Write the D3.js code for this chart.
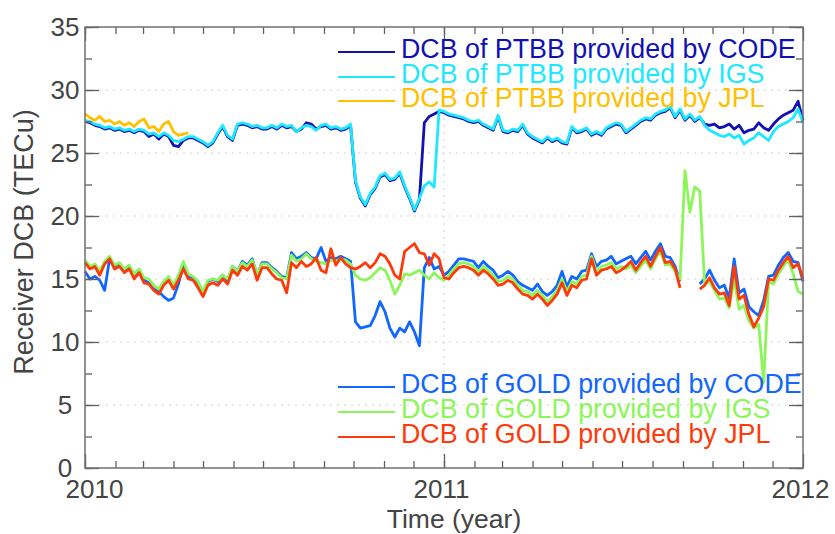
<!DOCTYPE html>
<html>
<head>
<meta charset="utf-8">
<script src="https://cdn.jsdelivr.net/npm/d3@7"></script>
<style>
body { margin: 0; background: #fff; }
text { font-family: "Liberation Sans", Arial, sans-serif; }
</style>
</head>
<body>
<svg id="chart" width="835" height="534"></svg>
<script>
// one sample every 5 days, starting 2010-01-01
var startDate = new Date(Date.UTC(2010, 0, 1));
var stepDays = 5;

// receiver PTBB
var ptbbCode = [27.5,27.4,27.2,27.1,26.9,27.0,26.8,26.9,26.7,26.8,26.6,26.8,26.7,26.3,26.5,26.1,26.5,26.3,25.6,25.5,26.0,26.2,26.2,26.0,25.8,25.5,25.8,26.5,27.1,26.3,26.0,27.2,27.3,27.2,27.0,27.1,26.9,
  26.9,27.1,26.9,27.2,27.0,27.1,26.7,26.9,27.4,27.3,26.9,27.1,27.2,26.9,27.0,26.8,26.9,27.2,22.7,21.4,20.8,21.7,22.2,23.1,23.3,22.8,22.9,23.4,22.3,21.4,20.4,21.3,27.4,27.9,28.1,28.3,28.2,
  28.0,27.9,27.8,27.7,27.5,27.4,27.5,27.2,27.0,26.8,27.9,26.7,26.6,26.8,26.7,27.2,26.5,26.2,26.0,25.8,26.2,25.9,26.1,25.8,25.7,27.0,26.6,26.7,26.9,26.4,26.6,26.4,26.9,27.1,27.3,27.2,
  26.6,26.9,27.2,27.5,27.7,27.6,28.0,28.2,28.3,28.6,27.8,28.4,27.6,28.0,27.5,27.8,27.3,27.2,27.3,27.0,27.1,27.3,26.9,27.2,26.6,26.8,26.9,27.4,27.0,26.8,27.3,27.7,28.0,28.2,28.4,29.1,27.6];
var ptbbIgs = [27.6,27.5,27.3,27.2,27.0,27.1,26.9,27.0,26.8,26.9,26.7,26.9,26.8,26.5,26.6,26.3,26.6,26.4,26.0,25.9,26.1,26.3,26.3,26.1,25.9,25.6,25.9,26.6,27.2,26.4,26.1,27.3,27.4,27.3,27.1,27.2,27.0,
  27.0,27.2,27.0,27.3,27.1,27.2,26.7,27.0,27.2,27.1,26.8,27.2,27.3,27.0,27.1,26.9,27.0,27.3,22.8,21.5,20.9,21.8,22.3,23.2,23.4,22.9,23.0,23.5,22.4,21.5,20.5,21.4,22.4,22.7,22.3,28.4,28.3,
  28.1,28.0,27.9,27.8,27.6,27.5,27.6,27.3,27.1,26.9,28.0,26.8,26.7,26.9,26.8,27.3,26.6,26.3,26.1,25.9,26.3,26.0,26.2,25.9,25.8,27.1,26.7,26.8,27.0,26.5,26.7,26.5,27.0,27.2,27.4,27.3,
  26.7,27.0,27.3,27.6,27.8,27.7,28.1,28.3,28.4,28.7,27.9,28.5,27.7,28.1,27.6,27.9,27.2,26.8,26.6,26.4,26.3,26.5,26.2,26.4,25.7,26.0,26.2,26.6,26.3,26.0,26.7,27.1,27.3,27.5,27.8,28.5,27.4];
var ptbbJpl = [28.1,27.8,27.6,27.9,27.5,27.6,27.3,27.5,27.2,27.4,27.1,27.5,27.7,27.0,27.1,26.7,27.3,27.5,26.7,26.4,26.5,26.6];

// receiver GOLD
var goldCode = [15.6,15.0,15.2,14.9,14.1,16.6,15.9,16.2,15.7,16.0,15.3,15.7,14.9,14.7,14.2,14.0,13.6,13.3,13.5,14.6,16.1,15.2,15.1,14.7,13.9,14.8,15.0,14.8,15.3,14.9,16.0,15.6,16.4,16.1,16.6,15.3,16.3,
  16.3,15.9,15.6,15.2,15.1,17.1,16.6,16.8,17.1,16.7,16.6,17.5,16.4,16.7,16.6,16.8,16.6,16.4,
  11.6,11.1,11.2,11.3,12.1,13.2,12.4,11.1,10.4,11.1,10.8,11.6,10.8,9.7,15.9,16.7,15.8,16.0,15.3,
  15.6,16.1,16.6,16.6,16.5,16.4,15.9,16.4,16.0,15.7,15.1,15.3,15.6,15.3,14.8,14.5,14.3,14.1,14.6,14.0,13.7,14.0,14.5,15.6,14.4,15.2,15.0,15.6,15.7,17.0,16.0,16.4,16.5,16.8,16.2,16.4,
  16.6,16.8,16.2,16.7,17.2,16.5,17.2,17.8,16.8,16.7,16.0,14.8,null,null,null,14.6,15.0,15.7,14.9,14.3,14.5,13.5,16.6,13.9,14.2,12.8,12.4,12.1,13.3,15.2,15.3,16.1,16.7,17.1,16.4,16.3,14.8];
var goldIgs = [16.5,16.0,16.2,15.6,16.4,16.8,16.1,16.3,15.8,16.1,15.4,15.8,15.1,15.0,14.5,14.2,14.8,15.2,14.5,15.3,16.4,15.4,15.2,14.8,14.0,14.9,15.0,14.9,15.3,15.0,16.0,15.6,16.3,16.0,16.5,15.4,16.2,
  16.2,15.8,15.5,15.1,15.0,16.9,16.4,16.6,17.0,16.6,16.4,16.3,16.2,16.5,16.4,16.6,16.5,16.2,
  15.3,15.0,14.9,15.1,15.5,15.9,15.7,14.9,13.8,14.5,15.4,15.3,15.5,15.7,15.3,15.0,15.5,15.1,14.9,
  15.3,15.8,16.2,16.3,16.2,16.0,15.6,16.0,15.7,15.3,14.8,14.9,15.2,15.0,14.5,14.1,14.0,13.7,14.1,13.7,13.2,13.6,14.1,15.0,14.0,14.8,14.6,15.2,15.3,16.8,15.6,16.0,16.1,16.3,15.8,16.0,
  15.8,16.1,15.5,16.0,16.5,15.8,16.6,17.2,16.1,16.2,15.6,15.0,23.6,20.3,22.3,22.0,14.6,14.8,14.1,13.4,13.5,12.7,15.0,12.6,12.9,11.7,11.1,11.4,6.8,14.8,14.6,15.4,16.0,16.5,15.4,14.0,13.8];
var goldJpl = [16.3,15.8,16.0,15.3,16.2,16.6,15.8,16.0,15.5,15.8,15.0,15.5,14.7,14.6,14.1,13.8,14.5,14.9,14.2,14.9,15.8,15.0,14.9,14.3,13.6,14.5,14.7,14.5,15.0,14.6,15.7,15.3,16.0,15.7,16.2,14.9,15.9,
  15.9,15.4,15.0,14.9,13.9,16.3,15.9,16.4,16.0,16.2,16.7,15.7,15.5,17.4,16.1,16.7,16.2,15.9,15.8,16.0,16.3,15.9,16.3,17.0,16.8,16.2,15.3,15.0,17.2,17.5,17.8,17.1,17.0,16.1,17.0,16.6,15.1,
  15.0,15.5,15.9,16.0,15.9,15.7,15.3,15.7,15.4,15.0,14.5,14.6,14.9,14.7,14.2,13.8,13.7,13.4,13.8,13.4,12.9,13.3,13.8,14.7,13.7,14.5,14.3,14.9,15.0,16.6,15.3,15.7,15.8,16.0,15.5,15.7,
  16.0,16.4,15.7,16.3,16.8,16.0,16.8,17.5,16.3,16.4,15.8,14.3,null,null,null,14.2,14.5,15.1,14.3,13.8,13.9,12.9,16.0,13.4,13.7,12.2,11.2,11.9,12.8,15.0,14.9,15.7,16.3,16.8,15.9,16.2,15.0];

var seriesNames = ["DCB of PTBB provided by CODE", "DCB of PTBB provided by IGS", "DCB of PTBB provided by JPL",
                   "DCB of GOLD provided by CODE", "DCB of GOLD provided by IGS", "DCB of GOLD provided by JPL"];
var seriesColors = ["#1010b4", "#1ee8ff", "#ffc000", "#1166ff", "#8cf55a", "#ff3a0a"];
var seriesValues = [ptbbCode, ptbbIgs, ptbbJpl, goldCode, goldIgs, goldJpl];

var yTicks = [0, 5, 10, 15, 20, 25, 30, 35];
var xTickYears = [2010, 2011, 2012];

var svg = d3.select("#chart");
var plotLeft = 85, plotRight = 803, plotTop = 27, plotBottom = 468;

svg.append("rect").attr("width", 835).attr("height", 534).attr("fill", "#fff");

var x = d3.scaleUtc()
    .domain([new Date(Date.UTC(2010, 0, 1)), new Date(Date.UTC(2012, 0, 1))])
    .range([plotLeft, plotRight]);
var y = d3.scaleLinear().domain([0, 35]).range([plotBottom, plotTop]);

var yearDates = xTickYears.map(function(d) { return new Date(Date.UTC(d, 0, 1)); });
var monthDates = d3.utcMonth.range(x.domain()[0], x.domain()[1]);
var minorY = d3.range(0, 35.01, 2.5);

//dotted grid
var grid = svg.append("g");
grid.selectAll(".gy").data(yTicks.slice(1, -1)).enter().append("line")
    .attr("x1", plotLeft).attr("x2", plotRight)
    .attr("y1", function(d) { return y(d); }).attr("y2", function(d) { return y(d); })
    .attr("stroke", "#d0d0d0").attr("stroke-width", 1).attr("stroke-dasharray", "2,5");
grid.selectAll(".gx").data(yearDates.slice(1, -1)).enter().append("line")
    .attr("x1", function(d) { return x(d); }).attr("x2", function(d) { return x(d); })
    .attr("y1", plotTop).attr("y2", plotBottom)
    .attr("stroke", "#d0d0d0").attr("stroke-width", 1).attr("stroke-dasharray", "2,5");

//lines
var line = d3.line()
    .defined(function(d) { return d.v !== null; })
    .x(function(d) { return x(d.date); })
    .y(function(d) { return y(d.v); });

seriesValues.forEach(function(vals, k) {
    var pts = vals.map(function(v, i) {
        return { date: d3.utcDay.offset(startDate, i * stepDays), v: v };
    });
    svg.append("path")
        .datum(pts)
        .attr("d", line)
        .attr("fill", "none")
        .attr("stroke", seriesColors[k])
        .attr("stroke-width", 2.8)
        .attr("stroke-linejoin", "round");
});

//axes, ticks pointing inwards
function styleAxis(g) {
    g.select(".domain").remove();
    g.selectAll(".tick line").attr("stroke", "#606060").attr("stroke-width", 1.3);
    g.selectAll("text").attr("fill", "#444").style("font-size", "26px");
}

svg.append("g").attr("transform", "translate(0," + plotBottom + ")")
    .call(d3.axisBottom(x).tickValues(monthDates).tickFormat("").tickSizeInner(-7).tickSizeOuter(0))
    .call(styleAxis);
svg.append("g").attr("transform", "translate(0," + plotTop + ")")
    .call(d3.axisTop(x).tickValues(monthDates).tickFormat("").tickSizeInner(-7).tickSizeOuter(0))
    .call(styleAxis);
svg.append("g").attr("transform", "translate(0," + plotBottom + ")")
    .call(d3.axisBottom(x).tickValues(yearDates).tickFormat(d3.utcFormat("%Y")).tickSizeInner(-14).tickSizeOuter(0).tickPadding(12))
    .call(styleAxis)
    .selectAll("text").attr("dx", function(d, i) { return i === 0 ? 9 : -3; });
svg.append("g").attr("transform", "translate(0," + plotTop + ")")
    .call(d3.axisTop(x).tickValues(yearDates).tickFormat("").tickSizeInner(-14).tickSizeOuter(0))
    .call(styleAxis);

svg.append("g").attr("transform", "translate(" + plotLeft + ",0)")
    .call(d3.axisLeft(y).tickValues(minorY).tickFormat("").tickSizeInner(-7).tickSizeOuter(0))
    .call(styleAxis);
svg.append("g").attr("transform", "translate(" + plotRight + ",0)")
    .call(d3.axisRight(y).tickValues(minorY).tickFormat("").tickSizeInner(-7).tickSizeOuter(0))
    .call(styleAxis);
svg.append("g").attr("transform", "translate(" + plotLeft + ",0)")
    .call(d3.axisLeft(y).tickValues(yTicks).tickSizeInner(-14).tickSizeOuter(0).tickPadding(20))
    .call(styleAxis)
    .selectAll("text").attr("text-anchor", "middle");
svg.append("g").attr("transform", "translate(" + plotRight + ",0)")
    .call(d3.axisRight(y).tickValues(yTicks).tickFormat("").tickSizeInner(-14).tickSizeOuter(0))
    .call(styleAxis);

svg.append("rect")
    .attr("x", plotLeft).attr("y", plotTop)
    .attr("width", plotRight - plotLeft).attr("height", plotBottom - plotTop)
    .attr("fill", "none").attr("stroke", "#707070").attr("stroke-width", 1.5);

//axis titles
svg.append("text")
    .attr("x", 454).attr("y", 528)
    .attr("text-anchor", "middle")
    .attr("fill", "#444").style("font-size", "26.5px")
    .text("Time (year)");
svg.append("text")
    .attr("transform", "translate(33,242) rotate(-90)")
    .attr("text-anchor", "middle")
    .attr("fill", "#444").style("font-size", "27px")
    .text("Receiver DCB (TECu)");

//legends
var legendRows = [58, 83, 107, 393, 418, 443];
var legend = svg.append("g");
seriesNames.forEach(function(name, k) {
    var yy = legendRows[k];
    legend.append("line")
        .attr("x1", 338).attr("x2", 395)
        .attr("y1", yy - 6).attr("y2", yy - 6)
        .attr("stroke", seriesColors[k]).attr("stroke-width", 2.2);
    legend.append("text")
        .attr("x", 401).attr("y", yy)
        .attr("fill", seriesColors[k])
        .style("font-size", "26.8px")
        .text(name);
});
</script>
</body>
</html>
